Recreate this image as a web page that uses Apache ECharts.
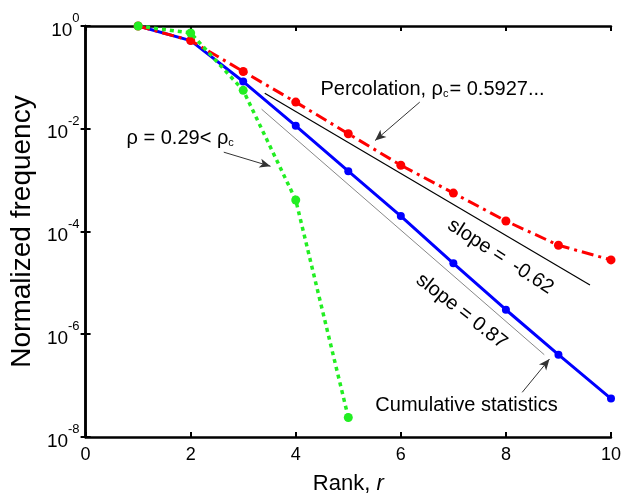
<!DOCTYPE html>
<html>
<head>
<meta charset="utf-8">
<script src="https://cdn.jsdelivr.net/npm/echarts@6/dist/echarts.min.js"></script>
<style>html,body{margin:0;padding:0;background:#fff}#c{width:624px;height:500px}</style>
</head>
<body>
<div id="c"></div>
<script>
// ---- data ----
var ranks = [1, 2, 3, 4, 5, 6, 7, 8, 9, 10];
var percolation = [1, 0.52, 0.13, 0.033, 0.008, 0.00195, 5.6e-4, 1.6e-4, 5.4e-5, 2.8e-5];
var cumulative = [1, 0.52, 0.083, 0.0114, 0.00149, 2.0e-4, 2.4e-5, 3.0e-6, 4.0e-7, 5.6e-8];
var ranksLow = [1, 2, 3, 4, 5];
var lowDensity = [1, 0.73, 0.056, 4.1e-4, 2.4e-8];
var slopeLineA = [[3.41, 0.049], [9.60, 9.1e-6]];   // slope = -0.62 guide
var slopeLineB = [[3.35, 0.024], [8.73, 4.0e-7]];   // slope = 0.87 guide
var xTicks = [0, 2, 4, 6, 8, 10];
var yTickExponents = [0, -2, -4, -6, -8];
var arrows = [
  [[6.36, 0.033], [5.51, 0.0059]],
  [[2.63, 0.0035], [3.52, 0.00186]],
  [[8.31, 7.4e-8], [8.83, 3.3e-7]]
];
var notes = [
  {text: '{t|Percolation, ρ}{s|c}{t|= 0.5927...}', x: 4.47, y: 0.065, align: 'left', rot: 0},
  {text: '{t|ρ = 0.29< ρ}{s|c}', x: 0.78, y: 0.0071, align: 'left', rot: 0},
  {text: '{t|slope =  -0.62}', x: 7.92, y: 3.5e-5, align: 'center', rot: -33},
  {text: '{t|slope = 0.87}', x: 7.18, y: 3.0e-6, align: 'center', rot: -38},
  {text: '{t|Cumulative statistics}', x: 7.25, y: 4.5e-8, align: 'center', rot: 0}
];

var FONT = '"Liberation Sans", Arial, sans-serif';
function pairs(xs, ys) { return xs.map(function (x, i) { return [x, ys[i]]; }); }

var chart = echarts.init(document.getElementById('c'));
var axisLine = {show: true, lineStyle: {color: '#000', width: 2.5}};
var tick = {show: true, inside: true, length: 5, lineStyle: {color: '#000', width: 2}};

var option = {
  backgroundColor: '#fff',
  animation: false,
  grid: {left: 84, right: 12, top: 26, bottom: 58},
  xAxis: [{
    type: 'value', min: 0, max: 10, interval: 2, position: 'bottom',
    axisLine: axisLine, axisTick: tick, splitLine: {show: false},
    axisLabel: {color: '#000', fontSize: 18, fontFamily: FONT, margin: 9,
      formatter: function (v) { return xTicks.indexOf(v) >= 0 ? String(v) : ''; }},
    name: '{n|Rank, }{i|r}', nameLocation: 'middle', nameGap: 36,
    nameTextStyle: {rich: {
      n: {fontSize: 22, fontFamily: FONT, color: '#000'},
      i: {fontSize: 22, fontFamily: FONT, color: '#000', fontStyle: 'italic'}}}
  }, {
    type: 'value', min: 0, max: 10, interval: 2, position: 'top',
    axisLine: axisLine, axisTick: tick, splitLine: {show: false}, axisLabel: {show: false}
  }],
  yAxis: [{
    type: 'log', logBase: 10, min: 1e-8, max: 1, interval: 2, position: 'left',
    axisLine: axisLine, axisTick: tick, splitLine: {show: false}, minorTick: {show: false},
    axisLabel: {margin: 6, fontFamily: FONT,
      formatter: function (v) {
        var e = Math.round(Math.log10(v));
        return yTickExponents.indexOf(e) >= 0 ? '{b|10}{s|' + e + '}' : '';
      },
      rich: {
        b: {fontSize: 19, fontFamily: FONT, color: '#000', lineHeight: 28, verticalAlign: 'bottom'},
        s: {fontSize: 13, fontFamily: FONT, color: '#000', lineHeight: 28, verticalAlign: 'top'}
      }},
    name: 'Normalized frequency', nameLocation: 'middle', nameGap: 44,
    nameTextStyle: {fontSize: 28, fontFamily: FONT, color: '#000'}
  }, {
    type: 'log', logBase: 10, min: 1e-8, max: 1, interval: 2, position: 'right',
    axisLine: axisLine, axisTick: tick, splitLine: {show: false}, axisLabel: {show: false}
  }],
  series: [
    {type: 'line', name: 'slopeA', data: slopeLineA, symbol: 'none', z: 1,
      lineStyle: {color: '#000', width: 1.2}},
    {type: 'line', name: 'slopeB', data: slopeLineB, symbol: 'none', z: 1,
      lineStyle: {color: '#888', width: 1}},
    {type: 'line', name: 'Cumulative', data: pairs(ranks, cumulative), z: 3,
      symbol: 'circle', symbolSize: 8, itemStyle: {color: '#0000ff'},
      lineStyle: {color: '#0000ff', width: 3}},
    {type: 'line', name: 'Percolation', data: pairs(ranks, percolation), z: 4,
      symbol: 'circle', symbolSize: 9, itemStyle: {color: '#ff0000'},
      lineStyle: {color: '#ff0000', width: 3, type: [12, 5, 3, 5]}},
    {type: 'line', name: 'rho0.29', data: pairs(ranksLow, lowDensity), z: 5,
      symbol: 'circle', symbolSize: 9, itemStyle: {color: '#22ee22'},
      lineStyle: {color: '#22ee22', width: 3.5, type: [4, 4]}},
    {type: 'line', name: 'arrows', data: [], z: 6,
      markLine: {silent: true, symbol: ['none', 'arrow'], symbolSize: [7, 11],
        label: {show: false},
        lineStyle: {color: '#333', width: 1, type: 'solid'},
        data: arrows.map(function (a) { return [{coord: a[0]}, {coord: a[1]}]; })}}
  ]
};
chart.setOption(option);

var graphics = notes.map(function (n) {
  var p = chart.convertToPixel({xAxisIndex: 0, yAxisIndex: 0}, [n.x, n.y]);
  return {
    type: 'text', x: p[0], y: p[1], rotation: n.rot * Math.PI / 180, z: 10,
    style: {
      text: n.text, align: n.align, verticalAlign: 'middle',
      rich: {
        t: {fontSize: 20, fontFamily: FONT, fill: '#000', lineHeight: 24, verticalAlign: 'bottom'},
        s: {fontSize: 11, fontFamily: FONT, fill: '#000', lineHeight: 24, verticalAlign: 'bottom', padding: [0, 1, 0, 0]}
      }
    }
  };
});
chart.setOption({graphic: graphics});
</script>
</body>
</html>
